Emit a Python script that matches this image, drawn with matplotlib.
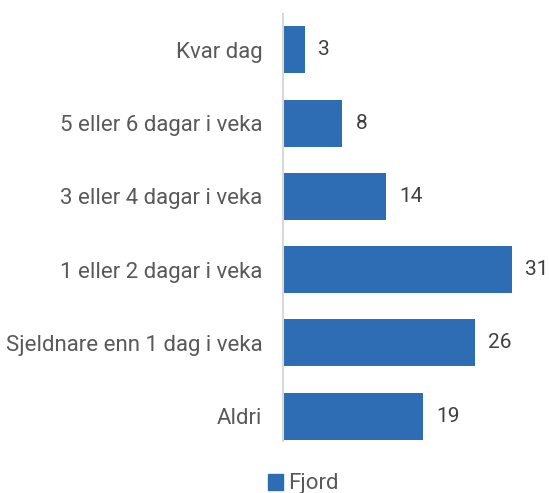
import matplotlib.pyplot as plt
from matplotlib.patches import Patch

categories = ["Kvar dag", "5 eller 6 dagar i veka", "3 eller 4 dagar i veka",
              "1 eller 2 dagar i veka", "Sjeldnare enn 1 dag i veka", "Aldri"]
values = [3, 8, 14, 31, 26, 19]
series_name = "Fjord"

plt.rcParams['font.family'] = ['Roboto', 'DejaVu Sans']
bar_color = '#2E6DB4'
text_color = '#595959'

fig = plt.figure(figsize=(5.49, 4.93), dpi=100)
ax = fig.add_axes([283 / 549, 1 - 441 / 493, 1 - 283 / 549, 427 / 493])

pos = list(range(len(categories)))
ax.barh(pos, values, height=0.64, color=bar_color)
for p, v in zip(pos, values):
    ax.text(v + 1.8, p, str(v), va='center', ha='left', fontsize=15, color='#404040')

ax.set_xlim(0, 36)
ax.set_ylim(5.34, -0.49)
ax.set_yticks(pos)
ax.set_yticklabels(categories, fontsize=16, color=text_color)
ax.tick_params(axis='y', length=0, pad=15)
ax.set_xticks([])
for s in ['top', 'right', 'bottom']:
    ax.spines[s].set_visible(False)
ax.spines['left'].set_color('#D9D9D9')
ax.spines['left'].set_linewidth(1.5)

fig.legend(handles=[Patch(color=bar_color, label=series_name)],
           loc='center', bbox_to_anchor=(303 / 549, 1 - 484 / 493),
           frameon=False, fontsize=16, labelcolor=text_color,
           handlelength=0.7, handleheight=0.7, handletextpad=0.2)

fig.savefig('out.png', dpi=100)
